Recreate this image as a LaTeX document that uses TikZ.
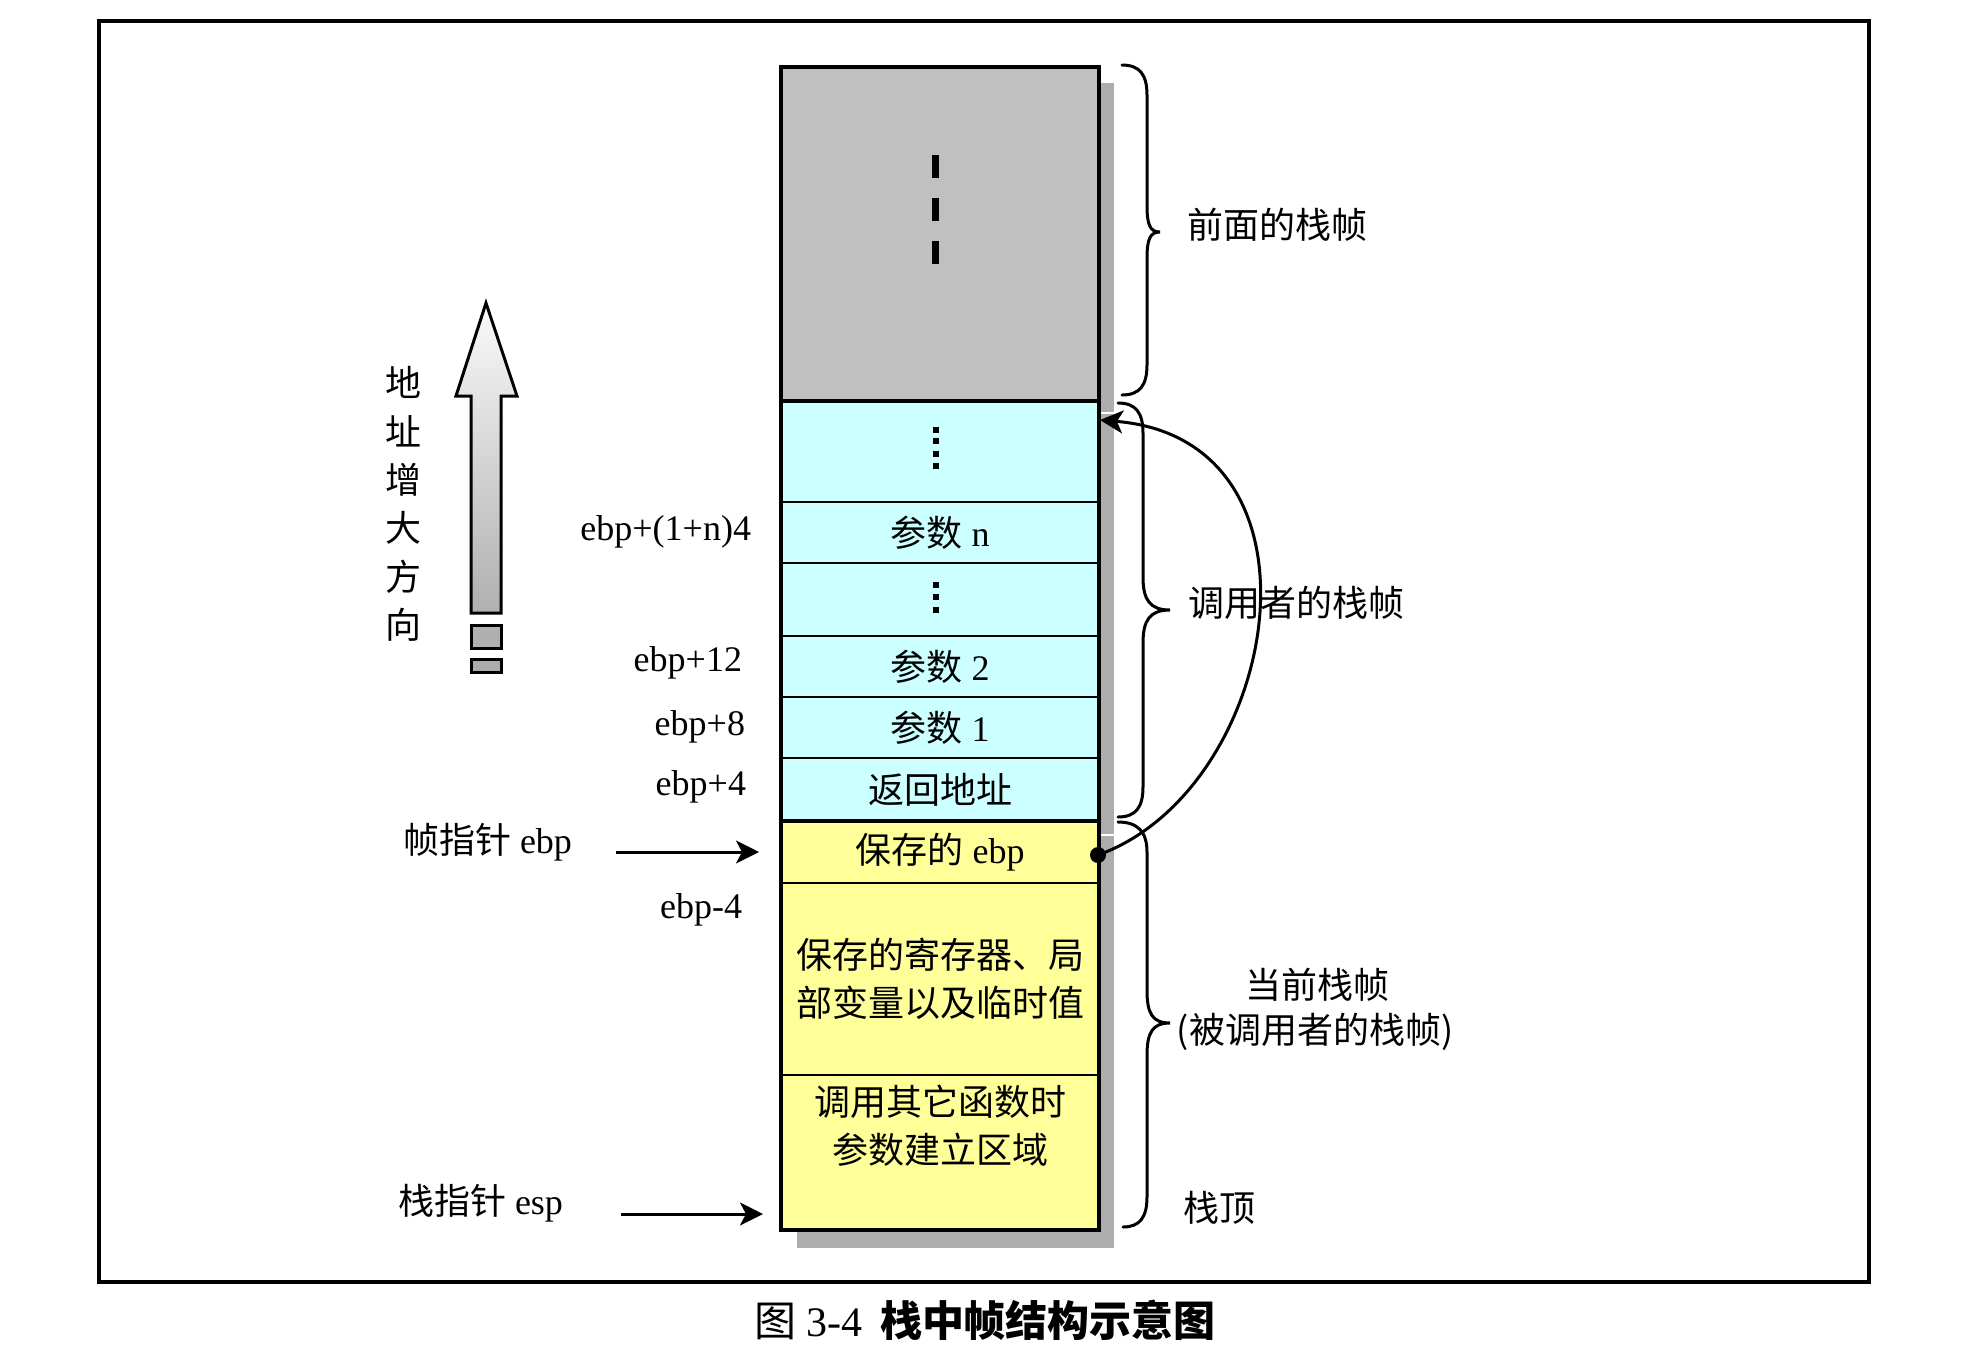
\documentclass[tikz,border=0pt]{standalone}
\usepackage{fontspec}
\setmainfont{Liberation Serif}
\newfontfamily\cjk{Noto Sans CJK SC}
\usetikzlibrary{arrows.meta}
\definecolor{cellgray}{HTML}{C0C0C0}
\definecolor{cellcyan}{HTML}{CCFFFF}
\definecolor{cellyellow}{HTML}{FFFF99}
\definecolor{shadowgray}{HTML}{ADADAD}
\begin{document}
\begin{tikzpicture}[x=0.5pt,y=-0.5pt,
  font=\fontsize{18pt}{24pt}\selectfont,
  cell/.style={draw, line width=1.2pt, inner sep=0pt, outer sep=0pt, minimum width=159pt, anchor=north west},
  lbl/.style={inner sep=0pt, outer sep=0pt},
  bracepath/.style={line width=1.5pt, line cap=round},
  ptr/.style={-{Stealth[length=11.5pt,width=11.5pt,inset=3pt]}, line width=1.5pt},
  dotsq/.style={fill=black, minimum size=3pt, inner sep=0pt, outer sep=0pt}]
\useasboundingbox (0,0) rectangle (1972,1356);
% outer frame
\draw[line width=2pt] (99,21) rectangle (1869,1282);
% shadow
\fill[shadowgray] (797,83) rectangle (1114,1248);
\draw[white, line width=0.6pt] (1100,413) -- (1114,413);
\draw[white, line width=0.6pt] (1100,835) -- (1114,835);
% cells
\node[cell, fill=cellgray, minimum height=167pt] (prev) at (781,67) {};
\node[cell, fill=cellcyan, minimum height=50.5pt] (cdots1) at (781,401) {};
\node[cell, fill=cellcyan, minimum height=30.5pt] (pn) at (781,502) {{\cjk 参数} n};
\node[cell, fill=cellcyan, minimum height=36.5pt] (cdots2) at (781,563) {};
\node[cell, fill=cellcyan, minimum height=30.5pt] (p2) at (781,636) {{\cjk 参数} 2};
\node[cell, fill=cellcyan, minimum height=30.5pt] (p1) at (781,697) {{\cjk 参数} 1};
\node[cell, fill=cellcyan, minimum height=31.5pt] (ret) at (781,758) {\cjk 返回地址};
\node[cell, fill=cellyellow, minimum height=31pt] (sebp) at (781,821) {{\cjk 保存的} ebp};
\node[cell, fill=cellyellow, minimum height=96pt, align=center] (loc) at (781,883) {\cjk 保存的寄存器、局\\\cjk 部变量以及临时值};
\node[cell, fill=cellyellow, minimum height=77.5pt] (args) at (781,1075) {};
\node[lbl, align=center] (argstxt) at (940,1126) {\cjk 调用其它函数时\\\cjk 参数建立区域};
% outer border and thick separators
\draw[line width=1.8pt] (781,67) rectangle (1099,1230);
\draw[line width=2.2pt] (781,401) -- (1099,401);
\draw[line width=2.2pt] (781,821) -- (1099,821);
% dashes in previous frame
\draw[line width=3.5pt, dash pattern=on 11.5pt off 10pt] (935.5,155) -- (935.5,264);
% dots
\foreach \yy in {429.5,440.5,453.5,466} \node[dotsq] at (935.5,\yy) {};
\foreach \yy in {584.5,597,610} \node[dotsq] at (935.5,\yy) {};
% braces
\draw[bracepath] (1122,65) .. controls (1140,65) and (1147,75) .. (1147,95) -- (1147,205)
  .. controls (1147,225) and (1150,232) .. (1160,232)
  .. controls (1150,232) and (1147,239) .. (1147,259) -- (1147,365)
  .. controls (1147,385) and (1140,395) .. (1122,395);
\draw[bracepath] (1118,403) .. controls (1136,403) and (1143,413) .. (1143,433) -- (1143,577)
  .. controls (1143,600) and (1150,610) .. (1170,610)
  .. controls (1150,610) and (1143,620) .. (1143,643) -- (1143,787)
  .. controls (1143,807) and (1136,817) .. (1118,817);
\draw[bracepath] (1118,822) .. controls (1138,822) and (1147,832) .. (1147,852) -- (1147,990)
  .. controls (1147,1013) and (1152,1023) .. (1170,1023)
  .. controls (1152,1023) and (1147,1033) .. (1147,1056) -- (1147,1197)
  .. controls (1147,1217) and (1140,1227) .. (1123,1227);
% right labels
\node[lbl, anchor=west] (lprev) at (1187,225) {\cjk 前面的栈帧};
\node[lbl, anchor=west] (lcaller) at (1188,603) {\cjk 调用者的栈帧};
\node[lbl] (lcur) at (1317,985) {\cjk 当前栈帧};
\node[lbl] (lcallee) at (1315,1032) {\cjk (被调用者的栈帧)};
\node[lbl, anchor=west] (ltop) at (1183,1208) {\cjk 栈顶};
% left offset labels
\node[lbl, anchor=east] (o1) at (751,532) {ebp+(1+n)4};
\node[lbl, anchor=east] (o2) at (742,663) {ebp+12};
\node[lbl, anchor=east] (o3) at (745,727) {ebp+8};
\node[lbl, anchor=east] (o4) at (746,787) {ebp+4};
\node[lbl, anchor=east] (o5) at (742,910) {ebp-4};
% pointers
\node[lbl, anchor=west] (ebplbl) at (403,842) {{\cjk 帧指针} ebp};
\node[lbl, anchor=west] (esplbl) at (398,1203) {{\cjk 栈指针} esp};
\coordinate (esptgt) at (781,1214);
\draw[ptr, shorten <=22pt, shorten >=11pt] (ebplbl.east |- sebp.west) -- (sebp.west);
\draw[ptr, shorten <=29pt, shorten >=9pt] (esplbl.east |- esptgt) -- (esptgt);
% curved link
\node[circle, fill=black, inner sep=0pt, minimum size=8pt] (dot) at (1098,855) {};
\coordinate (linktgt) at (1100,420);
\draw[ptr] (dot.center) .. controls (1280,790) and (1340,440) .. (linktgt);
% address growth arrow
\shade[top color=gray!4, bottom color=gray!62, draw=black, line width=1.5pt, line join=miter]
  (471,613) -- (471,396) -- (456,396) -- (486,303) -- (517,396) -- (501,396) -- (501,613) -- cycle;
\draw[fill=gray!62, line width=1.5pt] (471,625) rectangle (501,648);
\draw[fill=gray!65, line width=1.5pt] (471,659) rectangle (501,672);
\node[lbl, align=center, font=\fontsize{18pt}{24.2pt}\selectfont\cjk] (dir) at (403,504) {地\\址\\增\\大\\方\\向};
% caption
\node[lbl, font=\fontsize{21pt}{26pt}\selectfont] (cap) at (985,1320) {{\cjk 图}\hspace{5pt}3-4\hspace{9pt}{\cjk\bfseries 栈中帧结构示意图}};
\end{tikzpicture}
\end{document}
